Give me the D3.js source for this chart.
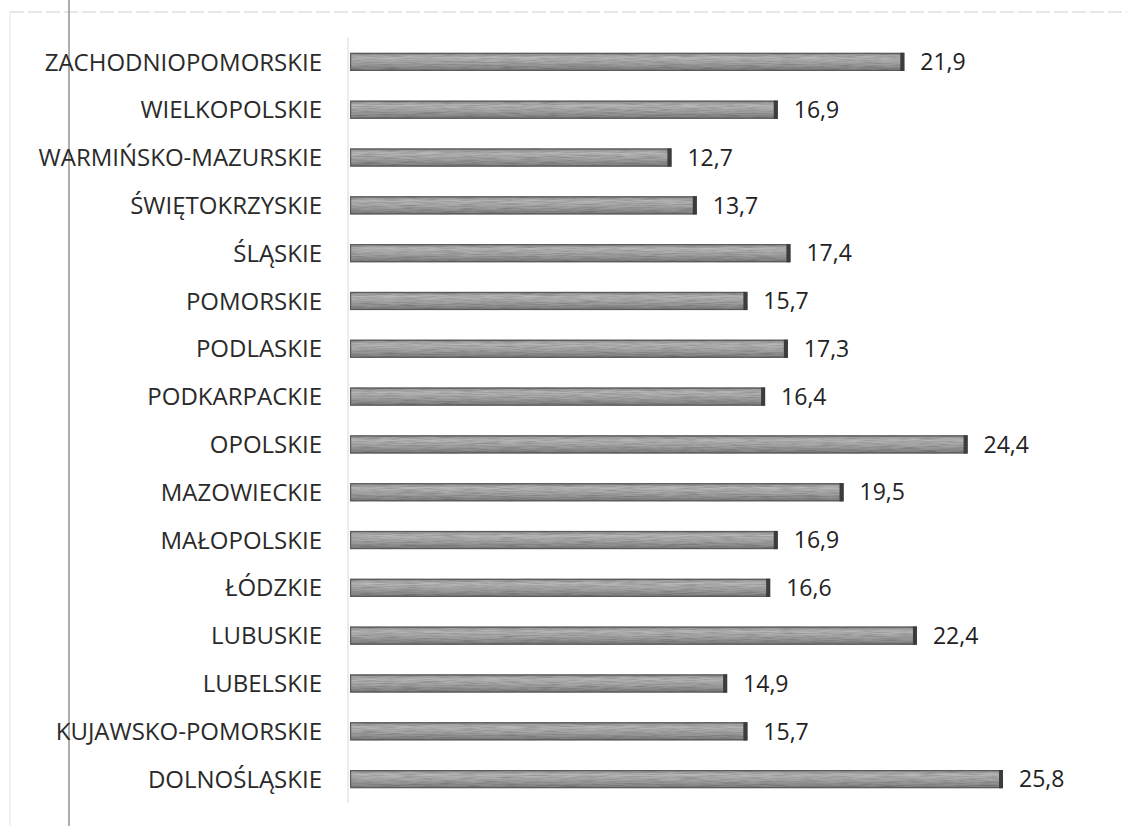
<!DOCTYPE html>
<html>
<head>
<meta charset="utf-8">
<script src="https://cdn.jsdelivr.net/npm/d3@7/dist/d3.min.js"></script>
<style>
  html, body { margin: 0; padding: 0; background: #fff; }
  svg { display: block; }
</style>
</head>
<body>
<svg id="chart" width="1127" height="826"></svg>
<script>
// Regions, listed top to bottom as drawn
const regions = [
  "ZACHODNIOPOMORSKIE", "WIELKOPOLSKIE", "WARMIŃSKO-MAZURSKIE", "ŚWIĘTOKRZYSKIE",
  "ŚLĄSKIE", "POMORSKIE", "PODLASKIE", "PODKARPACKIE", "OPOLSKIE", "MAZOWIECKIE",
  "MAŁOPOLSKIE", "ŁÓDZKIE", "LUBUSKIE", "LUBELSKIE", "KUJAWSKO-POMORSKIE", "DOLNOŚLĄSKIE"
];
const values = [21.9, 16.9, 12.7, 13.7, 17.4, 15.7, 17.3, 16.4, 24.4, 19.5, 16.9, 16.6, 22.4, 14.9, 15.7, 25.8];
const valueLabels = ["21,9", "16,9", "12,7", "13,7", "17,4", "15,7", "17,3", "16,4", "24,4", "19,5", "16,9", "16,6", "22,4", "14,9", "15,7", "25,8"];

const svg = d3.select("#chart");
const W = 1127, H = 826;
const plotLeft = 350, plotTop = 38, plotBottom = 803;

const x = d3.scaleLinear().domain([0, 25.8]).range([plotLeft, 1003]);
const y = d3.scaleBand().domain(regions).range([plotTop, plotBottom]).paddingInner(0.62).paddingOuter(0.31);

const defs = svg.append("defs");
const grad = defs.append("linearGradient").attr("id", "barGrad")
  .attr("x1", 0).attr("y1", 0).attr("x2", 0).attr("y2", 1);
grad.append("stop").attr("offset", "0%").attr("stop-color", "#8c8c8c");
grad.append("stop").attr("offset", "25%").attr("stop-color", "#b8b8b8");
grad.append("stop").attr("offset", "60%").attr("stop-color", "#a2a2a2");
grad.append("stop").attr("offset", "100%").attr("stop-color", "#7a7a7a");

// Streaky grain across the bars
const grain = defs.append("filter").attr("id", "grain")
  .attr("x", 0).attr("y", 0).attr("width", 1).attr("height", 1);
grain.append("feTurbulence").attr("type", "fractalNoise")
  .attr("baseFrequency", "0.05 0.9").attr("numOctaves", 2).attr("seed", 3).attr("result", "noise");
grain.append("feColorMatrix").attr("in", "noise").attr("type", "matrix")
  .attr("values", "0 0 0 0 0  0 0 0 0 0  0 0 0 0 0  0 0 0 0.7 -0.25").attr("result", "shade");
grain.append("feComposite").attr("in", "shade").attr("in2", "SourceGraphic").attr("operator", "in").attr("result", "shadeClip");
grain.append("feMerge").selectAll("feMergeNode").data(["SourceGraphic", "shadeClip"]).join("feMergeNode").attr("in", d => d);

// Frame: dashed top edge, faint left edge, dark vertical rule
svg.append("line").attr("x1", 10).attr("x2", W).attr("y1", 12).attr("y2", 12)
  .attr("stroke", "#cfcfcf").attr("stroke-width", 1.2).attr("stroke-dasharray", "14 4");
svg.append("line").attr("x1", 10).attr("x2", 10).attr("y1", 12).attr("y2", H)
  .attr("stroke", "#e4e4e4").attr("stroke-width", 1);
svg.append("line").attr("x1", 69).attr("x2", 69).attr("y1", 0).attr("y2", H)
  .attr("stroke", "#777").attr("stroke-width", 1.2);

// Category axis line
svg.append("line").attr("x1", plotLeft - 2).attr("x2", plotLeft - 2)
  .attr("y1", plotTop).attr("y2", plotBottom)
  .attr("stroke", "#d8d8d8").attr("stroke-width", 1);

// Category labels
const yAxis = d3.axisLeft(y).tickSize(0).tickPadding(0);
const ga = svg.append("g").attr("transform", `translate(${plotLeft - 28},0)`).call(yAxis);
ga.select(".domain").remove();
ga.selectAll("text")
  .attr("font-family", "'Open Sans', sans-serif").attr("font-size", 24)
  .attr("fill", "#2a2a2a").attr("dy", "0.36em");

// Bars
const bars = svg.append("g");
bars.selectAll("rect").data(values).join("rect")
  .attr("x", x(0))
  .attr("y", (d, i) => y(regions[i]))
  .attr("width", d => x(d) - x(0))
  .attr("height", y.bandwidth())
  .attr("fill", "url(#barGrad)")
  .attr("filter", "url(#grain)");
bars.selectAll("rect.edge").data(values).join("rect").attr("class", "edge")
  .attr("x", x(0) + 0.6)
  .attr("y", (d, i) => y(regions[i]) + 0.6)
  .attr("width", d => x(d) - x(0) - 1.2)
  .attr("height", y.bandwidth() - 1.2)
  .attr("fill", "none").attr("stroke", "#5a5a5a").attr("stroke-width", 1.2);
bars.selectAll("rect.cap").data(values).join("rect").attr("class", "cap")
  .attr("x", d => x(d) - 4)
  .attr("y", (d, i) => y(regions[i]))
  .attr("width", 4)
  .attr("height", y.bandwidth())
  .attr("fill", "#3c3c3c");

// Value labels
svg.append("g").selectAll("text").data(values).join("text")
  .attr("x", d => x(d) + 16)
  .attr("y", (d, i) => y(regions[i]) + y.bandwidth() / 2)
  .attr("dy", "0.36em")
  .attr("font-family", "'Open Sans', sans-serif").attr("font-size", 23)
  .attr("fill", "#222")
  .text((d, i) => valueLabels[i]);
</script>
</body>
</html>
